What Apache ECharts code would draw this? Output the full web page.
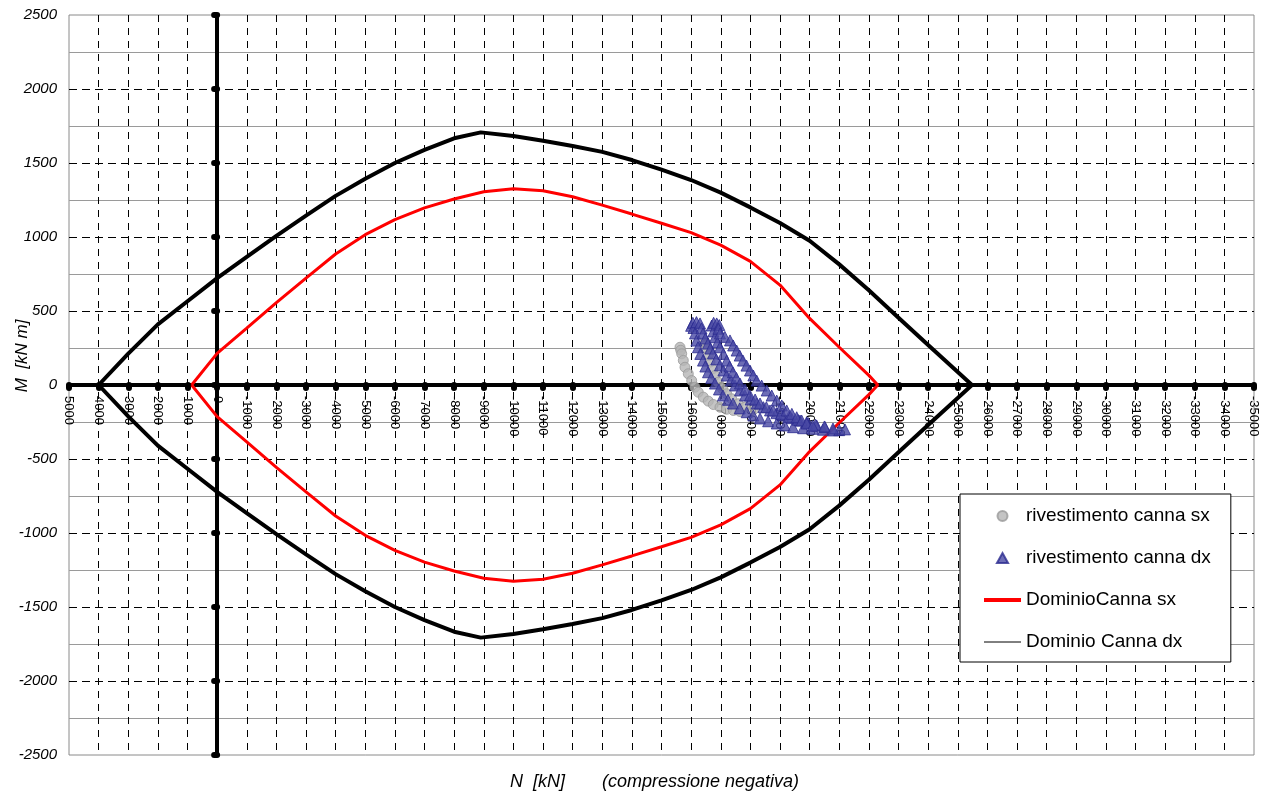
<!DOCTYPE html>
<html>
<head>
<meta charset="utf-8">
<title>Dominio M-N</title>
<script src="https://cdn.jsdelivr.net/npm/echarts@6/dist/echarts.min.js"></script>
<style>
  html, body { margin: 0; padding: 0; background: #ffffff; }
  #chart { width: 1267px; height: 796px; }
</style>
</head>
<body>
<div id="chart"></div>
<script>
// Interaction domain, outer section ("Dominio Canna dx"): [N kN, M kN m]
const dominioDxUpper = [
  [4000, 0], [3000, 212], [2000, 410], [1000, 566], [0, 722], [-1000, 865],
  [-2000, 1008], [-3000, 1144], [-4000, 1278], [-5000, 1394], [-6000, 1500],
  [-7000, 1589], [-8000, 1667], [-8900, 1707], [-10000, 1682], [-11000, 1650],
  [-12000, 1615], [-13000, 1575], [-14000, 1520], [-15000, 1455], [-16000, 1385],
  [-17000, 1300], [-18000, 1200], [-19000, 1095], [-20000, 975], [-21000, 815],
  [-22000, 640], [-23000, 455], [-24000, 270], [-25000, 88], [-25480, 0]
];
const dominioDxLower = [
  [-25480, 0], [-25000, -88], [-24000, -270], [-23000, -455], [-22000, -640],
  [-21000, -815], [-20000, -975], [-19000, -1095], [-18000, -1200], [-17000, -1300],
  [-16000, -1385], [-15000, -1455], [-14000, -1520], [-13000, -1575], [-12000, -1615],
  [-11000, -1650], [-10000, -1682], [-8900, -1707], [-8000, -1667], [-7000, -1589],
  [-6000, -1500], [-5000, -1394], [-4000, -1278], [-3000, -1144], [-2000, -1008],
  [-1000, -865], [0, -722], [1000, -566], [2000, -410], [3000, -212], [4000, 0]
];

// Interaction domain, inner section ("DominioCanna sx")
const dominioSxUpper = [
  [860, 0], [0, 214], [-1000, 384], [-2000, 557], [-3000, 722], [-4000, 885],
  [-5000, 1016], [-6000, 1117], [-7000, 1197], [-8000, 1257], [-9000, 1306],
  [-10000, 1326], [-11000, 1312], [-12000, 1272], [-13000, 1215], [-14000, 1155],
  [-15000, 1093], [-16000, 1030], [-17000, 945], [-18000, 835], [-19000, 675],
  [-20000, 450], [-21000, 255], [-22000, 65], [-22300, 0]
];
const dominioSxLower = [
  [-22300, 0], [-22000, -65], [-21000, -255], [-20000, -450], [-19000, -675],
  [-18000, -835], [-17000, -945], [-16000, -1030], [-15000, -1093], [-14000, -1155],
  [-13000, -1215], [-12000, -1272], [-11000, -1312], [-10000, -1326], [-9000, -1306],
  [-8000, -1257], [-7000, -1197], [-6000, -1117], [-5000, -1016], [-4000, -885],
  [-3000, -722], [-2000, -557], [-1000, -384], [0, -214], [860, 0]
];

// Lining stresses, left tube ("rivestimento canna sx")
const rivestimentoSx = [
  [-15624, 255], [-15650, 235], [-15682, 211], [-15736, 166], [-15793, 120],
  [-15904, 76], [-16019, 30], [-16130, -15], [-16242, -49], [-16411, -82],
  [-16580, -109], [-16749, -132], [-16974, -150], [-17200, -164], [-17424, -172],
  [-17649, -179],
  [-16468, 289], [-16500, 270], [-16526, 245], [-16580, 199], [-16637, 154],
  [-16728, 109], [-16805, 64], [-16917, 19], [-17065, -26], [-17200, -59],
  [-17369, -93], [-17592, -127], [-17818, -150], [-18098, -168]
];

// Lining stresses, right tube ("rivestimento canna dx")
const rivestimentoDx = [
  [-16000, 400], [-16060, 420], [-16080, 385], [-16130, 348], [-16180, 300],
  [-16232, 255], [-16310, 210], [-16401, 165], [-16480, 125], [-16570, 86],
  [-16680, 48], [-16805, 10], [-16940, -30], [-17075, -71], [-17240, -100],
  [-17413, -125], [-17640, -158], [-17875, -184], [-18100, -206], [-18325, -226],
  [-18600, -245], [-18889, -260], [-19160, -273], [-19439, -285], [-19780, -292],
  [-20114, -296], [-20450, -302], [-20789, -307], [-21000, -305], [-21194, -300],
  [-16180, 425], [-16300, 416], [-16350, 382], [-16401, 348], [-16480, 314],
  [-16570, 280], [-16650, 246], [-16738, 213], [-16850, 173], [-16974, 133],
  [-17090, 98], [-17200, 64], [-17340, 30], [-17480, -3], [-17650, -37],
  [-17818, -71], [-18010, -98], [-18213, -125], [-18440, -150], [-18662, -172],
  [-18880, -190], [-19101, -206], [-19390, -224], [-19675, -240], [-19960, -258],
  [-20239, -274], [-20520, -285], [-20789, -294],
  [-16694, 402], [-16750, 362], [-16805, 323], [-16890, 288], [-16974, 255],
  [-17090, 210], [-17200, 165], [-17300, 125], [-17413, 86], [-17530, 48],
  [-17649, 10], [-17820, -30], [-17987, -71], [-18160, -98], [-18325, -125],
  [-18540, -150], [-18764, -172], [-19030, -195], [-19300, -215], [-19600, -235],
  [-19900, -252], [-20200, -268], [-20500, -280],
  [-16760, 420], [-16863, 416], [-16950, 405], [-16920, 380], [-16974, 348],
  [-17140, 325], [-17312, 301], [-17420, 267], [-17537, 233], [-17640, 199],
  [-17750, 165], [-17870, 131], [-17987, 98], [-18100, 64], [-18213, 30],
  [-18380, -4], [-18551, -37], [-18720, -71], [-18889, -105], [-19060, -138],
  [-19226, -172], [-19400, -195], [-19564, -218], [-19730, -240], [-19901, -260],
  [-20100, -275]
];

const seriesNames = ['rivestimento canna sx', 'rivestimento canna dx', 'DominioCanna sx', 'Dominio Canna dx'];
const xAxisTitle = 'N  [kN]';
const xAxisNote = '(compressione negativa)';
const yAxisTitle = 'M  [kN m]';

const FONT = "'Liberation Sans', Arial, sans-serif";
const plainNumber = v => String(v);

// plot box
const GRID_LEFT = 69, GRID_TOP = 15, GRID_W = 1185, GRID_H = 740;

// equilateral-ish triangle for the legend, keeps its proportions
const TRIANGLE_ICON = 'path://M5,0 L10,9 L0,9 Z';

const chart = echarts.init(document.getElementById('chart'), null, { renderer: 'canvas' });

chart.setOption({
  animation: false,
  backgroundColor: '#ffffff',
  grid: {
    left: GRID_LEFT, top: GRID_TOP, width: GRID_W, height: GRID_H,
    containLabel: false, outerBoundsMode: 'none',
    show: true, borderColor: '#8a8a8a', borderWidth: 1, backgroundColor: '#ffffff'
  },
  xAxis: {
    type: 'value',
    min: -35000, max: 5000, interval: 1000,
    inverse: true,
    position: 'bottom',
    // axis sits on M = 0, the vertical middle of the plot box
    offset: -GRID_H / 2,
    axisLine: { onZero: false, lineStyle: { color: '#000', width: 4 } },
    axisTick: { show: true, length: 3, lineStyle: { color: '#000', width: 6, cap: 'round' } },
    axisLabel: {
      rotate: -90, margin: 11, color: '#000',
      fontFamily: FONT, fontSize: 13,
      showMinLabel: true, showMaxLabel: true,
      formatter: plainNumber
    },
    splitLine: {
      show: true, showMinLine: false, showMaxLine: false,
      lineStyle: { color: '#000', width: 1, type: [7, 6] }
    }
  },
  yAxis: [
    {
      type: 'value',
      min: -2500, max: 2500, interval: 500,
      position: 'left',
      axisLine: { show: false, onZero: false },
      axisTick: { show: false },
      axisLabel: {
        margin: 12, color: '#000', fontFamily: FONT, fontSize: 15, fontStyle: 'italic',
        formatter: plainNumber
      },
      splitLine: {
        show: true, showMinLine: false, showMaxLine: false,
        lineStyle: { color: '#000', width: 1, type: [8, 5] }
      },
      minorTick: { show: false, splitNumber: 2 },
      minorSplitLine: { show: true, lineStyle: { color: '#9a9a9a', width: 1 } }
    },
    {
      type: 'value',
      min: -2500, max: 2500, interval: 500,
      position: 'left',
      axisLine: { show: true, onZero: true, lineStyle: { color: '#000', width: 4 } },
      axisTick: { show: true, length: 3, lineStyle: { color: '#000', width: 6, cap: 'round' } },
      axisLabel: { show: false },
      splitLine: { show: false }
    }
  ],
  legend: {
    orient: 'vertical',
    left: 960, top: 494,
    padding: [12, 20, 10, 22],
    itemGap: 22,
    itemWidth: 37, itemHeight: 10,
    symbolKeepAspect: true,
    backgroundColor: '#ffffff',
    borderColor: '#000', borderWidth: 1,
    textStyle: { color: '#000', fontFamily: FONT, fontSize: 19, lineHeight: 20 },
    data: [
      { name: seriesNames[0], icon: 'circle' },
      { name: seriesNames[1], icon: TRIANGLE_ICON },
      {
        name: seriesNames[2], itemStyle: { opacity: 0 },
        lineStyle: { color: '#ff0000', width: 4, opacity: 1 }
      },
      {
        name: seriesNames[3], itemStyle: { opacity: 0 },
        lineStyle: { color: '#000000', width: 1, opacity: 1 }
      }
    ]
  },
  graphic: [
    {
      type: 'text', x: 22, y: 356, rotation: Math.PI / 2,
      style: {
        text: yAxisTitle, fill: '#000', font: 'italic 17px ' + FONT,
        align: 'center', verticalAlign: 'middle'
      }
    },
    {
      type: 'text', x: 510, y: 782,
      style: {
        text: xAxisTitle, fill: '#000', font: 'italic 18px ' + FONT,
        align: 'left', verticalAlign: 'middle'
      }
    },
    {
      type: 'text', x: 602, y: 782,
      style: {
        text: xAxisNote, fill: '#000', font: 'italic 18px ' + FONT,
        align: 'left', verticalAlign: 'middle'
      }
    }
  ],
  series: [
    {
      name: seriesNames[3], type: 'line', yAxisIndex: 0,
      data: dominioDxUpper.concat(dominioDxLower),
      symbol: 'none', smooth: false, z: 2,
      lineStyle: { color: '#000', width: 4 }, itemStyle: { color: '#000' }
    },
    {
      name: seriesNames[2], type: 'line', yAxisIndex: 0,
      data: dominioSxUpper.concat(dominioSxLower),
      symbol: 'none', smooth: false, z: 2,
      lineStyle: { color: '#ff0000', width: 3 }, itemStyle: { color: '#ff0000' }
    },
    {
      name: seriesNames[0], type: 'scatter', yAxisIndex: 0,
      data: rivestimentoSx, symbol: 'circle', symbolSize: 10, z: 3,
      itemStyle: { color: '#b5b5b5', borderColor: '#9a9a9a', borderWidth: 1 }
    },
    {
      name: seriesNames[1], type: 'scatter', yAxisIndex: 0,
      data: rivestimentoDx, symbol: 'triangle', symbolSize: 11, z: 4,
      itemStyle: { color: '#4848a4', borderColor: '#2c2c90', borderWidth: 1 }
    }
  ]
});
</script>
</body>
</html>
